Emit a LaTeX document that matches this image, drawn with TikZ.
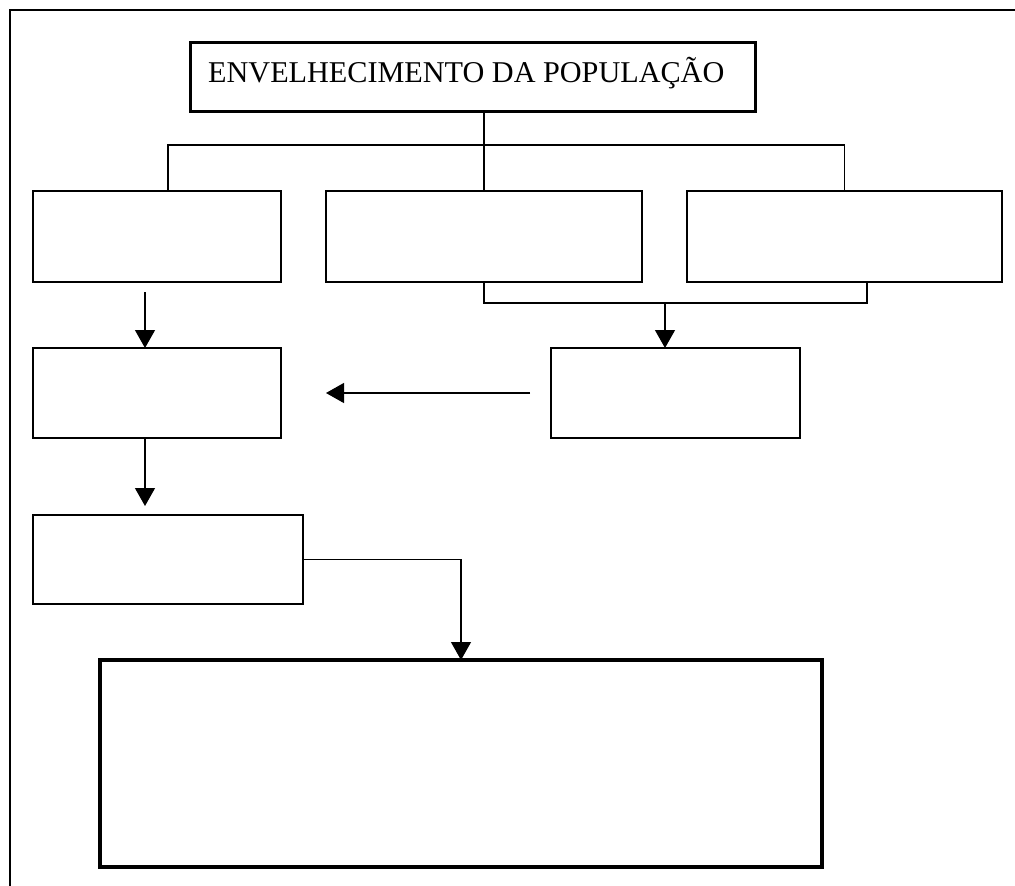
\documentclass[tikz,border=0pt]{standalone}
\usepackage{fontspec}
\setmainfont{Liberation Serif}
\usetikzlibrary{arrows.meta}
\begin{document}
\begin{tikzpicture}[x=1pt,y=-1pt,
  box/.style={draw,line width=1.3pt,inner sep=0pt,outer sep=0pt,rectangle},
  thickbox/.style={draw,line width=3pt,inner sep=0pt,outer sep=0pt,rectangle},
  conn/.style={line width=1.3pt},
  arr/.style={line width=1.3pt,-{Triangle[width=20pt,length=18pt]}}]
\useasboundingbox (0,0) rectangle (1015,886);
% outer frame (cut off at right and bottom)
\draw[line width=1.6pt] (10,890) -- (10,10) -- (1020,10);
% boxes
\node[thickbox,minimum width=565pt,minimum height=69pt] (title) at (472.5,76.5) {};
\node[anchor=base west,font=\fontsize{30.2pt}{33pt}\selectfont,inner sep=0pt] (ttext) at (208,82) {ENVELHECIMENTO DA POPULAÇÃO};
\node[box,minimum width=248pt,minimum height=91pt] (b1) at (157,236.5) {};
\node[box,minimum width=316pt,minimum height=91pt] (b2) at (484,236.5) {};
\node[box,minimum width=315pt,minimum height=91pt] (b3) at (844.5,236.5) {};
\node[box,minimum width=249pt,minimum height=90pt] (b4) at (675.5,393) {};
\node[box,minimum width=248pt,minimum height=90pt] (b5) at (157,393) {};
\node[box,minimum width=270pt,minimum height=89pt] (b6) at (168,559.5) {};
\node[thickbox,line width=4pt,minimum width=722pt,minimum height=207pt] (big) at (461,763.5) {};
% junction coordinates
\coordinate (j1) at (168,145);
\coordinate (j2) at (867,303);
\coordinate (j3) at (665,303);
\coordinate (a1) at (530,393);
\coordinate (a2) at (326,393);
\coordinate (a3) at (145,292);
\coordinate (a4) at (145,506);
% connectors
\draw[conn] (b2.north |- title.south) -- (b2.north);
\draw[conn] (b1.north -| j1) |- (b3.north |- j1) -- (b3.north);
\draw[conn] (b2.south) |- (j2) -- (j2 |- b3.south);
\draw[arr] (j3) -- (j3 |- b4.north);
\draw[arr] (a1) -- (a2);
\draw[arr] (a3) -- (a3 |- b5.north);
\draw[arr] (b5.south -| a3) -- (a4);
\draw[arr] (b6.east) -| (big.north);
\end{tikzpicture}
\end{document}
